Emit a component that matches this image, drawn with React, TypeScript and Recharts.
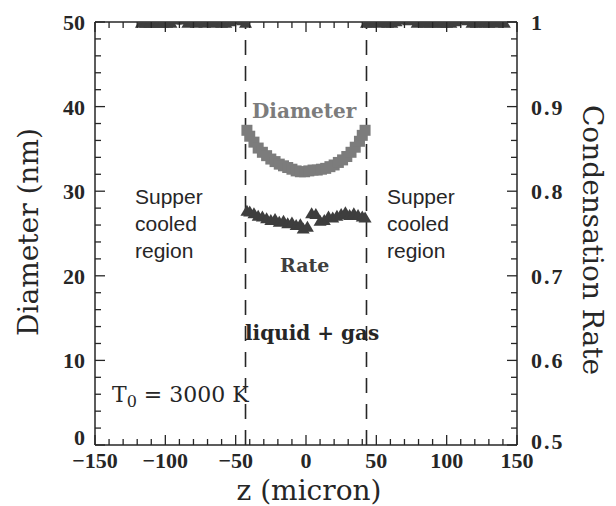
import React from "react";
import { ComposedChart, XAxis, YAxis, Scatter, ReferenceLine } from "recharts";

// axis tick labels
const zTicks = [-150, -100, -50, 0, 50, 100, 150];
const diameterTicks = [0, 10, 20, 30, 40, 50];
const rateTicks = [0.5, 0.6, 0.7, 0.8, 0.9, 1];

// liquid + gas zone boundaries (micron)
const zoneEdges = [-43, 43];

// particle diameter inside the liquid + gas zone
const diameterZ = [-42, -40, -37, -34, -31, -28, -25, -22, -19, -16, -13, -10, -7, -4, -1, 2, 5, 8, 11, 14, 17, 20, 23, 26, 29, 32, 35, 38, 40, 42];
const diameterNm = [37.2, 36.5, 35.8, 35.1, 34.6, 34.2, 33.8, 33.5, 33.2, 33.0, 32.8, 32.6, 32.4, 32.3, 32.3, 32.4, 32.5, 32.5, 32.6, 32.7, 32.9, 33.1, 33.4, 33.7, 34.1, 34.6, 35.2, 35.9, 36.6, 37.2];

// condensation rate inside the zone
const rateZ = [-42, -40, -37, -34, -31, -28, -25, -22, -19, -16, -13, -10, -7, -4, -2, 1, 4, 7, 10, 13, 16, 19, 22, 25, 28, 31, 34, 37, 40, 42];
const rateIn = [0.777, 0.776, 0.774, 0.771, 0.770, 0.768, 0.766, 0.767, 0.764, 0.765, 0.762, 0.763, 0.760, 0.761, 0.756, 0.758, 0.774, 0.773, 0.765, 0.766, 0.770, 0.769, 0.771, 0.773, 0.775, 0.772, 0.774, 0.772, 0.770, 0.769];

// condensation rate in the supercooled regions
const leftZ = [-117, -114, -111, -108, -105, -102, -99, -96, -93, -90, -87, -84, -81, -78, -75, -72, -69, -66, -63, -60, -57, -54, -51, -48, -45, -43];
const leftRate = [0.999, 0.999, 0.999, 0.999, 0.999, 0.999, 0.999, 0.999, 1.003, 1.004, 1.003, 0.999, 1.001, 0.999, 1.001, 0.999, 1.001, 0.999, 1.001, 0.999, 0.999, 1.001, 1.003, 1.004, 1.002, 0.999];
const rightZ = [43, 46, 49, 52, 55, 58, 61, 64, 67, 70, 73, 76, 79, 82, 85, 88, 91, 94, 97, 100, 103, 106, 109, 112, 115, 118, 121, 124, 127, 130, 133, 136, 139, 141];
const rightRate = [0.999, 0.999, 1.001, 0.999, 1.001, 0.999, 0.999, 1.001, 1.003, 1.004, 1.002, 1.003, 0.999, 1.001, 0.999, 0.999, 1.001, 0.999, 0.999, 0.999, 0.999, 1.001, 1.003, 1.004, 1.002, 0.999, 0.999, 1.001, 0.999, 0.999, 1.001, 0.999, 1.003, 0.999];

const zip = (xs: number[], ys: number[]) => xs.map((z, i) => ({ z, v: ys[i] }));
const diameterData = zip(diameterZ, diameterNm);
const rateInData = zip(rateZ, rateIn);
const rateOutData = [...zip(leftZ, leftRate), ...zip(rightZ, rightRate)];

const ink = "#262626";
const gray = "#7c7c7c";
const dark = "#3e3e3e";
const tickFont = "'Liberation Serif', serif";
const titleFont = "'DejaVu Serif', serif";

const zMinor = Array.from({ length: 31 }, (_, i) => -150 + i * 10);
const dMinor = Array.from({ length: 26 }, (_, i) => i * 2);
const rMinor = Array.from({ length: 26 }, (_, i) => Math.round((0.5 + i * 0.02) * 100) / 100);

const minus = (v: number) => (v < 0 ? `\u2212${-v}` : `${v}`);

const BottomTick = (p: any) => {
  const v = p.payload.value;
  const major = zTicks.includes(v);
  return (
    <g>
      <line x1={p.x} x2={p.x} y1={p.y} y2={p.y - (major ? 10 : 6)} stroke={ink} strokeWidth={1.3} />
      {major && (
        <text x={p.x} y={p.y + 23} textAnchor="middle" fontFamily={tickFont} fontWeight="bold" fontSize={22} fill={ink}>
          {minus(v)}
        </text>
      )}
    </g>
  );
};

const TopTick = (p: any) => {
  const major = zTicks.includes(p.payload.value);
  return <line x1={p.x} x2={p.x} y1={p.y} y2={p.y + (major ? 10 : 6)} stroke={ink} strokeWidth={1.3} />;
};

const LeftTick = (p: any) => {
  const v = p.payload.value;
  const major = diameterTicks.includes(v);
  return (
    <g>
      <line x1={p.x} x2={p.x + (major ? 10 : 6)} y1={p.y} y2={p.y} stroke={ink} strokeWidth={1.3} />
      {major && (
        <text x={p.x - 10} y={v === 0 ? p.y : p.y + 8} textAnchor="end" fontFamily={tickFont} fontWeight="bold" fontSize={22} fill={ink}>
          {v}
        </text>
      )}
    </g>
  );
};

const RightTick = (p: any) => {
  const v = p.payload.value;
  const major = rateTicks.includes(v);
  return (
    <g>
      <line x1={p.x} x2={p.x - (major ? 10 : 6)} y1={p.y} y2={p.y} stroke={ink} strokeWidth={1.3} />
      {major && (
        <text x={p.x + 14} y={v === 0.5 ? p.y + 4 : p.y + 8} textAnchor="start" fontFamily={tickFont} fontWeight="bold" fontSize={22} letterSpacing={2} fill={ink}>
          {v}
        </text>
      )}
    </g>
  );
};

const Square = (p: any) => <rect x={p.cx - 5.5} y={p.cy - 5.5} width={11} height={11} fill={gray} />;
const Tri = (color: string) => (p: any) => (
  <path d={`M${p.cx},${p.cy - 6} L${p.cx + 6.5},${p.cy + 5} L${p.cx - 6.5},${p.cy + 5} Z`} fill={color} />
);

const abs = (left: number, top: number, extra: React.CSSProperties = {}): React.CSSProperties => ({
  position: "absolute",
  left,
  top,
  lineHeight: 1,
  whiteSpace: "nowrap",
  ...extra,
});

export default function App() {
  return (
    <div style={{ position: "relative", width: 600, height: 498 }}>
      <ComposedChart width={600} height={490} margin={{ top: 10, right: 31, bottom: 23, left: 27 }}>
        <XAxis
          xAxisId="bottom"
          dataKey="z"
          type="number"
          domain={[-150, 150]}
          ticks={zMinor}
          interval={0}
          height={30}
          tickSize={0}
          tickMargin={0}
          tickLine={false}
          tick={BottomTick}
          axisLine={{ stroke: ink, strokeWidth: 1.5 }}
          allowDataOverflow
        />
        <XAxis
          xAxisId="top"
          orientation="top"
          dataKey="z"
          type="number"
          domain={[-150, 150]}
          ticks={zMinor}
          interval={0}
          height={4}
          tickSize={0}
          tickMargin={0}
          tickLine={false}
          tick={TopTick}
          axisLine={{ stroke: ink, strokeWidth: 1.5 }}
          allowDataOverflow
        />
        <YAxis
          yAxisId="left"
          type="number"
          domain={[0, 50]}
          ticks={dMinor}
          interval={0}
          width={60}
          tickSize={0}
          tickMargin={0}
          tickLine={false}
          tick={LeftTick}
          axisLine={{ stroke: ink, strokeWidth: 1.5 }}
          allowDataOverflow
        />
        <YAxis
          yAxisId="right"
          orientation="right"
          type="number"
          domain={[0.5, 1]}
          ticks={rMinor}
          interval={0}
          width={60}
          tickSize={0}
          tickMargin={0}
          tickLine={false}
          tick={RightTick}
          axisLine={{ stroke: ink, strokeWidth: 1.5 }}
          allowDataOverflow
        />
        {zoneEdges.map((z) => (
          <ReferenceLine key={z} x={z} xAxisId="bottom" yAxisId="left" stroke={ink} strokeWidth={1.6} strokeDasharray="15 11" />
        ))}
        <Scatter data={rateOutData} dataKey="v" xAxisId="bottom" yAxisId="right" shape={Tri(dark)} isAnimationActive={false} />
        <Scatter data={diameterData} dataKey="v" xAxisId="bottom" yAxisId="left" shape={Square} isAnimationActive={false} />
        <Scatter data={rateInData} dataKey="v" xAxisId="bottom" yAxisId="right" shape={Tri(dark)} isAnimationActive={false} />
      </ComposedChart>

      <div style={abs(21, 224, { transform: "translate(-50%, -50%) rotate(-90deg)", fontFamily: titleFont, fontSize: 28, color: ink })}>
        Diameter (nm)
      </div>
      <div style={abs(584, 232, { transform: "translate(-50%, -50%) rotate(90deg)", fontFamily: titleFont, fontSize: 28, color: ink })}>
        Condensation Rate
      </div>
      <div style={abs(301, 483, { transform: "translate(-50%, -50%)", fontFamily: titleFont, fontSize: 28, color: ink })}>
        z (micron)
      </div>

      <div style={abs(244, 93, { fontFamily: titleFont, fontWeight: "bold", fontSize: 20, color: gray })}>Diameter</div>
      <div style={abs(272, 248, { fontFamily: titleFont, fontWeight: "bold", fontSize: 19, color: dark })}>Rate</div>
      <div style={abs(237, 315, { fontFamily: titleFont, fontWeight: "bold", fontSize: 20, color: ink })}>liquid + gas</div>

      <div style={abs(127, 175, { fontFamily: "'Liberation Sans', sans-serif", fontSize: 21, lineHeight: "27px", color: ink, whiteSpace: "normal" })}>
        Supper<br />cooled<br />region
      </div>
      <div style={abs(379, 175, { fontFamily: "'Liberation Sans', sans-serif", fontSize: 21, lineHeight: "27px", color: ink, whiteSpace: "normal" })}>
        Supper<br />cooled<br />region
      </div>

      <div style={abs(104, 376, { fontFamily: titleFont, fontSize: 22, color: ink })}>
        T<sub style={{ fontSize: 16, verticalAlign: "-5px" }}>0</sub> = 3000 K
      </div>
    </div>
  );
}
